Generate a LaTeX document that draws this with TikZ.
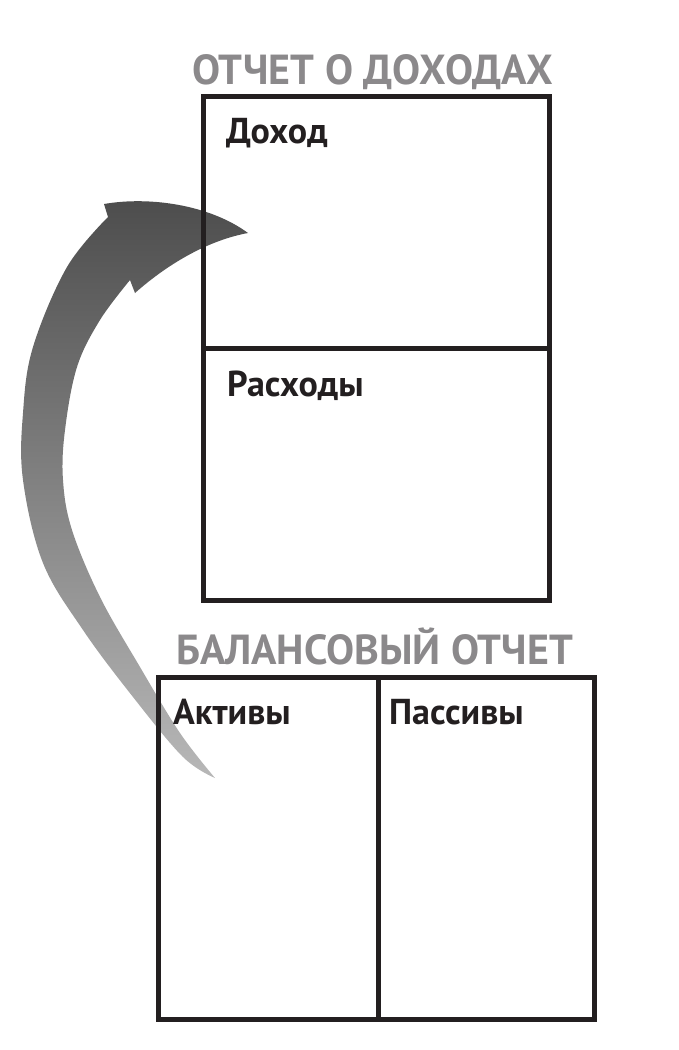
\documentclass[tikz,border=0pt]{standalone}
\usepackage{fontspec}
\newfontfamily\ptsans{PT Sans}
\definecolor{titlegray}{RGB}{139,137,139}
\definecolor{labelblack}{RGB}{35,31,32}

\begin{document}
\begin{tikzpicture} [x = 1pt, y = -1pt]
     \useasboundingbox (0,0) rectangle (678,1050);
     \tikzset{
       title/.style = {font=\ptsans\bfseries\fontsize{42}{50}\selectfont, text=titlegray, inner sep=0pt},
       cell/.style = {font=\ptsans\bfseries\fontsize{36}{42}\selectfont, text=labelblack, inner sep=0pt},
       frame/.style = {draw=labelblack, line width=5pt}
     }

     % 曲線矢印
     \shade [top color=black!70, bottom color=black!28]
       (248,233) .. controls (210,205) and (150,196) .. (104,204) -- (108,217)
       -- plot [smooth, tension=0.6] coordinates {(108,217) (67,267) (33,347) (23,413) (23,480) (43,563) (83,630) (133,697) (183,757) (215,778)}
       -- plot [smooth, tension=0.6] coordinates {(215,778) (180,733) (140,667) (100,597) (72,530) (63,480) (65,430) (77,367) (100,320) (130,280)}
       -- (135,293) .. controls (170,262) and (210,240) .. (248,233) -- cycle;

     % 枠
     \draw [frame] (203,96) rectangle (549,600);
     \draw [frame] (203,348) -- (549,348);
     \draw [frame] (158,677) rectangle (594,1019);
     \draw [frame] (378,677) -- (378,1019);

     % 見出し
     \node [title, anchor=base] (income) at (373,84) {ОТЧЕТ О ДОХОДАХ};
     \node [title, anchor=base] (balance) at (375,664) {БАЛАНСОВЫЙ ОТЧЕТ};

     % 項目
     \node [cell, anchor=base west] (revenue) at (226,143) {Доход};
     \node [cell, anchor=base west] (expenses) at (227,396) {Расходы};
     \node [cell, anchor=base west] (assets) at (173,724) {Активы};
     \node [cell, anchor=base west] (liabilities) at (389,724) {Пассивы};
\end{tikzpicture}
\end{document}
